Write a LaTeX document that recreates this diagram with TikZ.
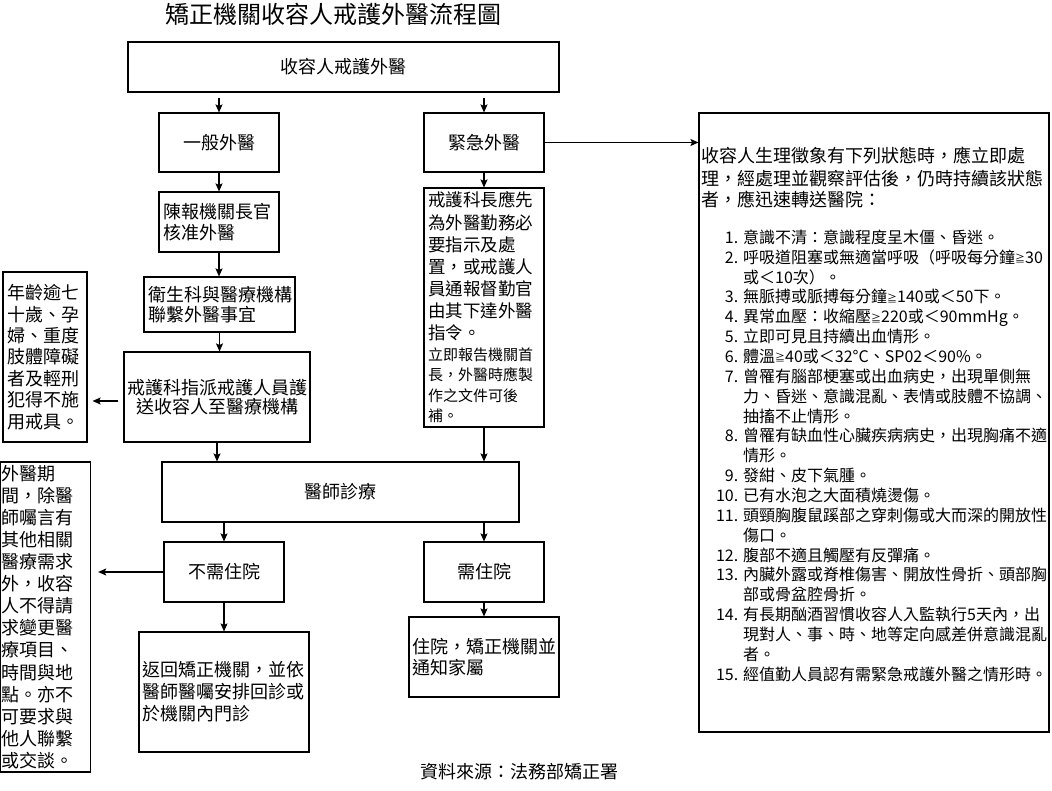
\documentclass[tikz,border=0pt]{standalone}
\usepackage{fontspec}
\setmainfont{Noto Sans CJK TC}
\usetikzlibrary{arrows.meta,calc}
\newcommand\itm[1]{\makebox[30pt][r]{#1}\hspace{5pt}}
\newcommand\cnt{\makebox[35pt]{}}
\newcommand\geqs{\raisebox{0.5pt}{\fontsize{10}{12}\selectfont ≧}}
\begin{document}
\begin{tikzpicture}[x=1pt,y=-1pt,
  box/.style={draw, line width=1.1pt, inner sep=0pt, font=\fontsize{18}{21.5}\selectfont},
  arr/.style={-{Stealth[length=8pt,width=7pt,inset=1.5pt]}, line width=1.1pt},
  txt/.style={inner sep=0pt, anchor=north west, align=left},
]
\useasboundingbox (0,0) rectangle (1052,791);

\node[font=\fontsize{24}{28}\selectfont] (title) at (333,14) {矯正機關收容人戒護外醫流程圖};

\node[box, minimum width=431pt, minimum height=50pt] (n0) at (343.5,67) {收容人戒護外醫};
\node[box, minimum width=120pt, minimum height=59pt] (n1) at (219,142.5) {一般外醫};
\node[box, minimum width=120pt, minimum height=59pt] (n2) at (484,142.5) {緊急外醫};

\node[box, minimum width=120pt, minimum height=60pt, text width=112pt, inner xsep=4pt, align=left] (n3) at (219,222) {陳報機關長官\\核准外醫};
\node[box, minimum width=151pt, minimum height=55pt, text width=143pt, inner xsep=4pt, align=left, font=\fontsize{18}{20}\selectfont] (n4) at (219.5,304.5) {衛生科與醫療機構\\聯繫外醫事宜};
\node[box, minimum width=186pt, minimum height=90pt, align=center, font=\fontsize{18}{19.5}\selectfont] (n5) at (217,397) {戒護科指派戒護人員護\\送收容人至醫療機構};
\node[box, minimum width=84pt, minimum height=170pt, text width=76pt, inner xsep=4pt, align=left, font=\fontsize{18}{21.4}\selectfont] (n6) at (45,357) {年齡逾七\\十歲、孕\\婦、重度\\肢體障礙\\者及輕刑\\犯得不施\\用戒具。};

\node[box, minimum width=120pt, minimum height=239pt, text width=112pt, inner xsep=4pt, align=left] (n7) at (484,307.5) {{\fontsize{17.5}{22.1}\selectfont 戒護科長應先\\為外醫勤務必\\要指示及處\\置，或戒護人\\員通報督勤官\\由其下達外醫\\指令。\par}{\fontsize{15}{20.6}\selectfont 立即報告機關首\\長，外醫時應製\\作之文件可後\\補。\par}};

\node[box, minimum width=357pt, minimum height=60pt] (n8) at (340.5,492) {醫師診療};
\node[box, minimum width=120pt, minimum height=60pt] (n9) at (224,572) {不需住院};
\node[box, minimum width=120pt, minimum height=60pt] (n10) at (484,572) {需住院};

\node[box, minimum width=90pt, minimum height=310pt, text width=88pt, inner xsep=1pt, align=left, font=\fontsize{18}{22.1}\selectfont] (n11) at (45.6,617) {外醫期\\間，除醫\\師囑言有\\其他相關\\醫療需求\\外，收容\\人不得請\\求變更醫\\療項目、\\時間與地\\點。亦不\\可要求與\\他人聯繫\\或交談。};

\node[box, minimum width=170pt, minimum height=120pt, text width=163pt, inner xsep=3.5pt, align=left, font=\fontsize{18}{22}\selectfont] (n12) at (224,692) {返回矯正機關，並依\\醫師醫囑安排回診或\\於機關內門診};
\node[box, minimum width=150pt, minimum height=80pt, text width=143pt, inner xsep=3.5pt, align=left] (n13) at (484,657) {住院，矯正機關並\\通知家屬};

\node[box, minimum width=350pt, minimum height=619pt] (n14) at (874,422.5) {};
\node[txt, font=\fontsize{18}{21.5}\selectfont] (head) at (701,146.8) {\strut 收容人生理徵象有下列狀態時，應立即處\\理，經處理並觀察評估後，仍時持續該狀態\\者，應迅速轉送醫院：};
\node[txt, font=\fontsize{16}{19.86}\selectfont] (list) at (708,229.2) {\strut\itm{1.}意識不清：意識程度呈木僵、昏迷。\\
\itm{2.}呼吸道阻塞或無適當呼吸（呼吸每分鐘\geqs 30\\
\cnt 或＜10次）。\\
\itm{3.}無脈搏或脈搏每分鐘\geqs 140或＜50下。\\
\itm{4.}異常血壓：收縮壓\geqs 220或＜90mmHg。\\
\itm{5.}立即可見且持續出血情形。\\
\itm{6.}體溫\geqs 40或＜32°C、SP02＜90\%。\\
\itm{7.}曾罹有腦部梗塞或出血病史，出現單側無\\
\cnt 力、昏迷、意識混亂、表情或肢體不協調、\\
\cnt 抽搐不止情形。\\
\itm{8.}曾罹有缺血性心臟疾病病史，出現胸痛不適\\
\cnt 情形。\\
\itm{9.}發紺、皮下氣腫。\\
\itm{10.}已有水泡之大面積燒燙傷。\\
\itm{11.}頭頸胸腹鼠蹊部之穿刺傷或大而深的開放性\\
\cnt 傷口。\\
\itm{12.}腹部不適且觸壓有反彈痛。\\
\itm{13.}內臟外露或脊椎傷害、開放性骨折、頭部胸\\
\cnt 部或骨盆腔骨折。\\
\itm{14.}有長期酗酒習慣收容人入監執行5天內，出\\
\cnt 現對人、事、時、地等定向感差併意識混亂\\
\cnt 者。\\
\itm{15.}經值勤人員認有需緊急戒護外醫之情形時。};

\node[font=\fontsize{18}{21}\selectfont] (src) at (519,772) {資料來源：法務部矯正署};

\draw[arr, shorten <=5pt] (n0.south -| n1) -- (n1.north);
\draw[arr, shorten <=5pt] (n0.south -| n2) -- (n2.north);
\draw[arr] (n1.south) -- (n3.north);
\draw[arr] (n2.south) -- (n7.north);
\draw[arr] (n3.south) -- (n3.south |- n4.north);
\draw[arr] (n4.south) -- (n4.south |- n5.north);
\draw[arr, shorten <=5pt, shorten >=5pt] ($(n5.west)+(0,4)$) -- ($(n5.west -| n6.east)+(0,4)$);
\draw[arr] (n5.south) -- (n5.south |- n8.north);
\draw[arr] (n7.south) -- (n7.south |- n8.north);
\draw[arr] (n8.south -| n9) -- (n9.north);
\draw[arr] (n8.south -| n10) -- (n10.north);
\draw[arr, shorten >=7pt] (n9.west) -- (n9.west -| n11.east);
\draw[arr] (n9.south) -- (n12.north);
\draw[arr] (n10.south) -- (n13.north);
\draw[arr] (n2.east) -- (n2.east -| n14.west);
\end{tikzpicture}
\end{document}
